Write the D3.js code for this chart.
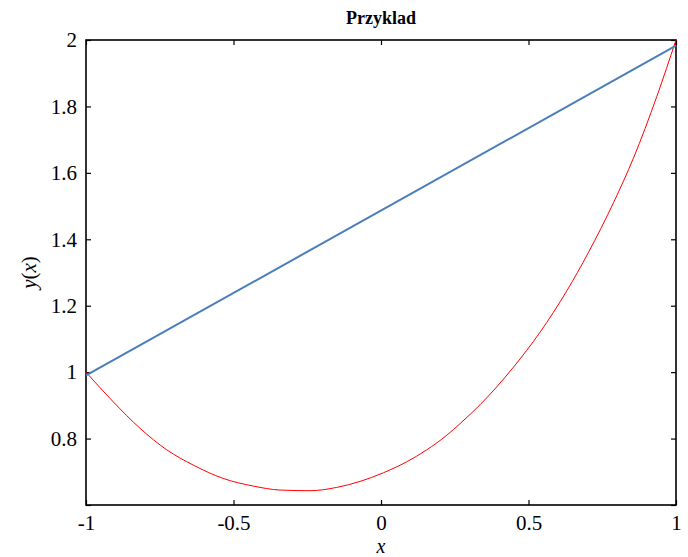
<!DOCTYPE html>
<html>
<head>
<meta charset="utf-8">
<script src="https://cdn.jsdelivr.net/npm/d3@7"></script>
<style>
    body { margin: 0; background: #fff; }
</style>
</head>
<body>
<div id="chart"></div>
<script>
// Data
const curveX = [-1, -0.907, -0.817, -0.726, -0.636, -0.535, -0.433, -0.342, -0.241, -0.15, -0.071, 0.008, 0.087, 0.155, 0.223, 0.268, 0.336, 0.449, 0.539, 0.63, 0.703, 0.788, 0.856, 0.935, 1];
const curveY = [1.0, 0.91, 0.831, 0.766, 0.72, 0.68, 0.657, 0.645, 0.643, 0.653, 0.671, 0.697, 0.73, 0.766, 0.81, 0.845, 0.902, 1.015, 1.12, 1.245, 1.36, 1.51, 1.645, 1.83, 2.0];
const lineX = [-1, 1];
const lineY = [0.99, 1.983];
const xTicks = [-1, -0.5, 0, 0.5, 1];
const yTicks = [0.6, 0.8, 1, 1.2, 1.4, 1.6, 1.8, 2];

const FONT = '"Liberation Serif", "Times New Roman", serif';
const width = 688, height = 557;
const margin = {top: 40, right: 12, bottom: 52, left: 86};
const w = width - margin.left - margin.right;
const h = height - margin.top - margin.bottom;

const svg = d3.select('#chart')
    .append('svg')
    .attr('width', width)
    .attr('height', height)
    .attr('font-family', FONT);

const g = svg.append('g')
    .attr('transform', `translate(${margin.left},${margin.top})`);

const x = d3.scaleLinear().domain([-1, 1]).range([0, w]);
const y = d3.scaleLinear().domain([0.6, 2]).range([h, 0]);

// Inner ticks on all four sides, MATLAB style
const fmt = d => (d === 0.6 ? '' : String(d));
const axes = [
    g.append('g')
        .attr('transform', `translate(0,${h})`)
        .call(d3.axisBottom(x).tickValues(xTicks).tickSize(-5).tickPadding(10).tickFormat(d => String(d))),
    g.append('g')
        .call(d3.axisTop(x).tickValues(xTicks).tickSize(-5).tickFormat('')),
    g.append('g')
        .call(d3.axisLeft(y).tickValues(yTicks).tickSize(-5).tickPadding(9).tickFormat(fmt)),
    g.append('g')
        .attr('transform', `translate(${w},0)`)
        .call(d3.axisRight(y).tickValues(yTicks).tickSize(-5).tickFormat(''))
];
axes.forEach(a => a.attr('font-family', FONT).attr('font-size', 21));

g.selectAll('.domain').remove();
g.selectAll('.tick line').attr('stroke', '#000').attr('stroke-width', 1.2);
g.selectAll('.tick text').attr('fill', '#000');

// Box
g.append('rect')
    .attr('width', w)
    .attr('height', h)
    .attr('fill', 'none')
    .attr('stroke', '#000')
    .attr('stroke-width', 1.6);

// Series
const curve = curveX.map((d, i) => [d, curveY[i]]);
const line = lineX.map((d, i) => [d, lineY[i]]);

g.append('path')
    .datum(curve)
    .attr('d', d3.line().x(d => x(d[0])).y(d => y(d[1])).curve(d3.curveMonotoneX))
    .attr('fill', 'none')
    .attr('stroke', '#ff0000')
    .attr('stroke-width', 1);

g.append('path')
    .datum(line)
    .attr('d', d3.line().x(d => x(d[0])).y(d => y(d[1])))
    .attr('fill', 'none')
    .attr('stroke', '#4a7ebb')
    .attr('stroke-width', 2);

// Title and axis labels
svg.append('text')
    .attr('x', margin.left + w / 2)
    .attr('y', 24)
    .attr('text-anchor', 'middle')
    .style('font-size', '18px')
    .style('font-weight', 'bold')
    .text('Przyklad');

svg.append('text')
    .attr('x', margin.left + w / 2)
    .attr('y', 553)
    .attr('text-anchor', 'middle')
    .style('font-size', '20px')
    .style('font-style', 'italic')
    .text('x');

const yl = svg.append('text')
    .attr('transform', `translate(36,${margin.top + h / 2}) rotate(-90)`)
    .attr('text-anchor', 'middle')
    .style('font-size', '21px');
yl.append('tspan').style('font-style', 'italic').text('y');
yl.append('tspan').text('(');
yl.append('tspan').style('font-style', 'italic').text('x');
yl.append('tspan').text(')');
</script>
</body>
</html>
